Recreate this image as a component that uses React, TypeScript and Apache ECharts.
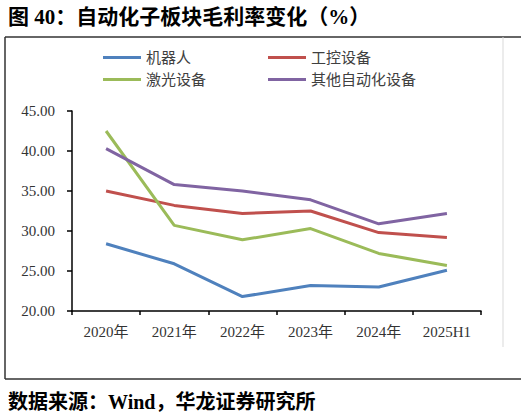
import { useEffect, useRef } from 'react';
import * as echarts from 'echarts';

const categories = ['2020年', '2021年', '2022年', '2023年', '2024年', '2025H1'];
const robot = [28.4, 25.9, 21.8, 23.2, 23.0, 25.1];
const industrialControl = [35.0, 33.2, 32.2, 32.5, 29.8, 29.2];
const laser = [42.5, 30.7, 28.9, 30.3, 27.2, 25.7];
const otherAutomation = [40.3, 35.8, 35.0, 33.9, 30.9, 32.2];

const seriesDefs = [
  { name: '机器人', data: robot, color: '#4F81BD', left: 103, top: 50 },
  { name: '工控设备', data: industrialControl, color: '#C0504D', left: 268, top: 50 },
  { name: '激光设备', data: laser, color: '#9BBB59', left: 103, top: 72 },
  { name: '其他自动化设备', data: otherAutomation, color: '#8064A2', left: 268, top: 72 },
];

const FONT = '"Liberation Serif", "Noto Sans CJK SC", serif';

export default function App() {
  const chartRef = useRef<HTMLDivElement>(null);

  useEffect(() => {
    if (!chartRef.current) return;
    const chart = echarts.init(chartRef.current, null, { renderer: 'svg' });

    chart.setOption({
      animation: false,
      backgroundColor: '#ffffff',
      textStyle: { fontFamily: FONT },
      legend: seriesDefs.map((s) => ({
        data: [s.name],
        left: s.left,
        top: s.top,
        icon: 'rect',
        itemWidth: 38,
        itemHeight: 3,
        itemGap: 5,
        padding: 0,
        textStyle: { color: '#404040', fontSize: 15, fontFamily: FONT },
      })),
      grid: { left: 72, right: 40, top: 111, bottom: 109 },
      xAxis: {
        type: 'category',
        data: categories,
        boundaryGap: true,
        axisLine: { lineStyle: { color: '#000000', width: 1.5 } },
        axisTick: { show: true, length: 4, interval: 0, lineStyle: { color: '#000000', width: 1.5 } },
        axisLabel: { color: '#333333', fontSize: 15, margin: 13, interval: 0, fontFamily: FONT },
      },
      yAxis: {
        type: 'value',
        min: 20,
        max: 45,
        interval: 5,
        axisLine: { show: true, lineStyle: { color: '#000000', width: 1.5 } },
        axisTick: { show: true, inside: false, length: 5, lineStyle: { color: '#000000', width: 1.5 } },
        axisLabel: {
          color: '#333333',
          fontSize: 15,
          margin: 17,
          fontFamily: FONT,
          formatter: (v: number) => v.toFixed(2),
        },
        splitLine: { show: false },
      },
      series: seriesDefs.map((s) => ({
        name: s.name,
        type: 'line',
        data: s.data,
        color: s.color,
        symbol: 'none',
        lineStyle: { width: 3, color: s.color },
      })),
      graphic: [
        {
          type: 'text',
          left: 8,
          top: 6,
          style: {
            text: '图 40：自动化子板块毛利率变化（%）',
            font: 'bold 21px ' + FONT,
            fill: '#000000',
          },
        },
        {
          type: 'text',
          left: 8,
          top: 392,
          style: {
            text: '数据来源：Wind，华龙证券研究所',
            font: 'bold 20px ' + FONT,
            fill: '#000000',
          },
        },
        { type: 'line', shape: { x1: 5, y1: 37, x2: 521, y2: 37 }, style: { stroke: '#333333', lineWidth: 1.5 } },
        { type: 'line', shape: { x1: 5, y1: 37, x2: 5, y2: 379 }, style: { stroke: '#333333', lineWidth: 1.5 } },
        { type: 'line', shape: { x1: 5, y1: 379, x2: 521, y2: 379 }, style: { stroke: '#333333', lineWidth: 1.5 } },
        { type: 'line', shape: { x1: 503, y1: 37, x2: 503, y2: 347 }, style: { stroke: '#d9d9d9', lineWidth: 1 } },
      ],
    });

    return () => {
      chart.dispose();
    };
  }, []);

  return (
    <div
      ref={chartRef}
      style={{ position: 'fixed', left: 0, top: 0, width: 521, height: 420 }}
    />
  );
}
